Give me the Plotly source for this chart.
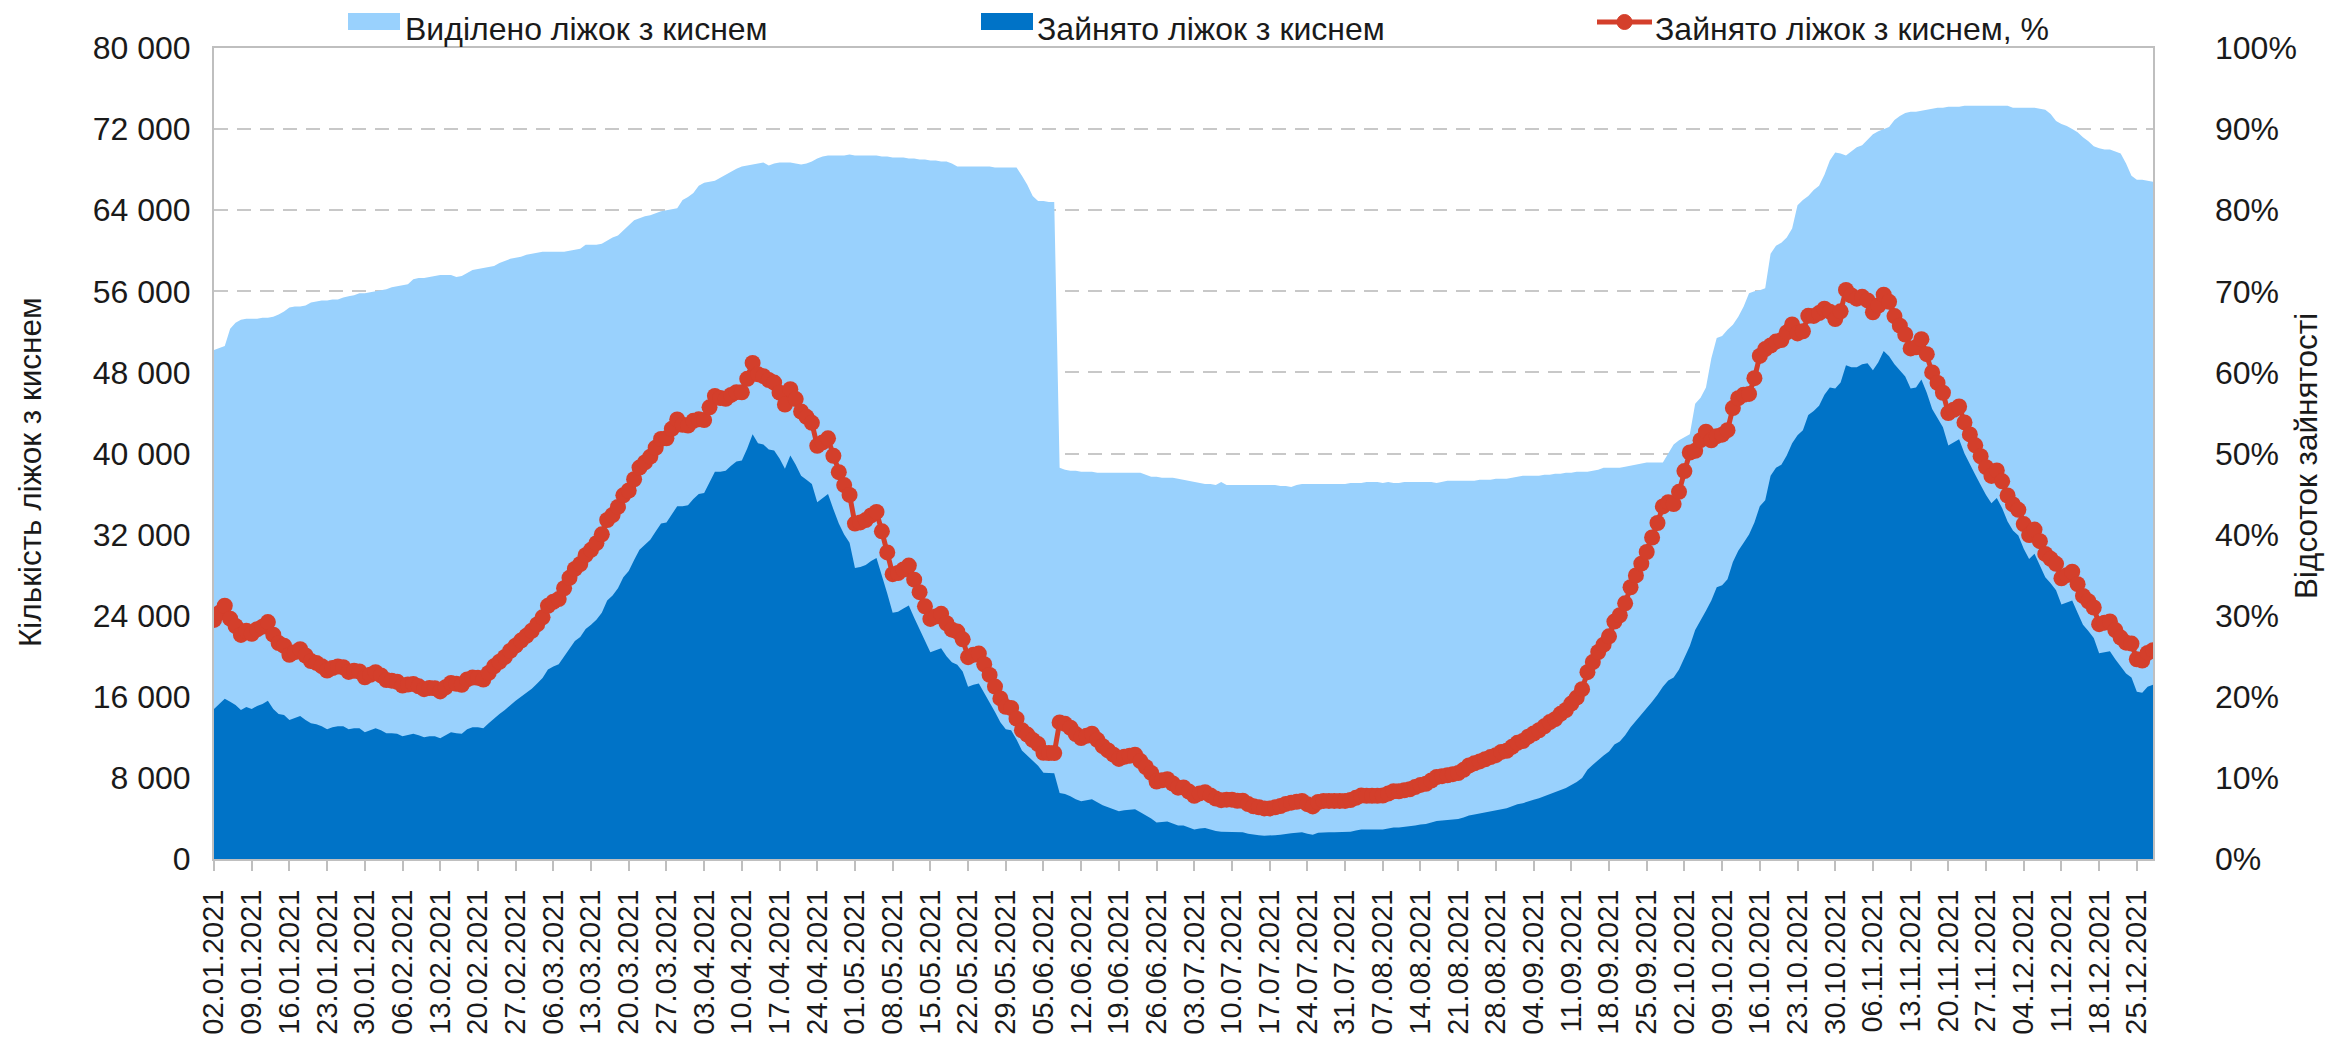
import pandas as pd
import plotly.graph_objects as go

# ---- data (daily, 02.01.2021 - 28.12.2021), values in thousands ----
dates = pd.date_range("2021-01-02", "2021-12-28", freq="D").strftime("%d.%m.%Y").tolist()

allocated_k = [
    50.2, 50.4, 50.6, 52.3, 52.9, 53.2, 53.3,
    53.3, 53.3, 53.4, 53.4, 53.5, 53.7, 54.0,
    54.4, 54.5, 54.5, 54.6, 54.9, 55.0, 55.1,
    55.1, 55.2, 55.2, 55.4, 55.5, 55.6, 55.8,
    55.8, 55.9, 56.0, 56.1, 56.2, 56.4, 56.5,
    56.6, 56.7, 57.2, 57.3, 57.3, 57.4, 57.5,
    57.6, 57.6, 57.6, 57.4, 57.5, 57.8, 58.1,
    58.2, 58.3, 58.4, 58.5, 58.8, 59.0, 59.2,
    59.3, 59.4, 59.6, 59.7, 59.8, 59.9, 59.9,
    59.9, 59.9, 59.9, 60.0, 60.1, 60.2, 60.6,
    60.6, 60.6, 60.7, 61.0, 61.3, 61.5, 62.0,
    62.5, 63.0, 63.2, 63.4, 63.5, 63.7, 63.9,
    64.0, 64.1, 64.2, 65.0, 65.3, 65.7, 66.4,
    66.7, 66.8, 66.9, 67.2, 67.5, 67.8, 68.1,
    68.3, 68.4, 68.5, 68.6, 68.7, 68.4, 68.6,
    68.7, 68.7, 68.7, 68.6, 68.5, 68.6, 68.8,
    69.1, 69.3, 69.4, 69.4, 69.4, 69.4, 69.5,
    69.4, 69.4, 69.4, 69.4, 69.4, 69.3, 69.3,
    69.2, 69.2, 69.2, 69.1, 69.1, 69.0, 69.0,
    68.9, 68.9, 68.8, 68.8, 68.6, 68.3, 68.3,
    68.3, 68.3, 68.3, 68.3, 68.3, 68.2, 68.2,
    68.2, 68.2, 68.2, 67.4, 66.5, 65.4, 64.9,
    64.9, 64.8, 64.8, 38.6, 38.4, 38.3, 38.3,
    38.2, 38.2, 38.2, 38.1, 38.1, 38.1, 38.1,
    38.1, 38.1, 38.1, 38.1, 38.1, 37.9, 37.7,
    37.7, 37.6, 37.6, 37.6, 37.5, 37.4, 37.3,
    37.2, 37.1, 37.0, 37.0, 36.9, 37.2, 36.9,
    36.9, 36.9, 36.9, 36.9, 36.9, 36.9, 36.9,
    36.9, 36.9, 36.8, 36.8, 36.7, 36.9, 37.0,
    37.0, 37.0, 37.0, 37.0, 37.0, 37.0, 37.0,
    37.0, 37.1, 37.1, 37.1, 37.2, 37.2, 37.2,
    37.1, 37.2, 37.1, 37.1, 37.2, 37.2, 37.2,
    37.2, 37.2, 37.2, 37.1, 37.2, 37.3, 37.3,
    37.3, 37.3, 37.3, 37.3, 37.4, 37.4, 37.4,
    37.5, 37.5, 37.5, 37.6, 37.7, 37.8, 37.8,
    37.8, 37.8, 37.9, 37.9, 38.0, 38.0, 38.1,
    38.1, 38.2, 38.2, 38.2, 38.3, 38.4, 38.6,
    38.6, 38.6, 38.6, 38.7, 38.8, 38.9, 39.0,
    39.1, 39.1, 39.1, 39.1, 40.0, 40.9, 41.3,
    41.6, 41.9, 44.9, 45.5, 46.5, 49.4, 51.4,
    51.6, 52.2, 52.7, 53.5, 54.5, 55.8, 56.0,
    56.1, 56.3, 59.7, 60.5, 60.8, 61.3, 62.2,
    64.5, 65.0, 65.4, 66.0, 66.4, 67.5, 68.9,
    69.7, 69.6, 69.4, 69.8, 70.2, 70.4, 71.0,
    71.5, 71.8, 72.0, 72.2, 72.9, 73.3, 73.6,
    73.7, 73.7, 73.8, 73.9, 74.0, 74.1, 74.1,
    74.2, 74.2, 74.2, 74.3, 74.3, 74.3, 74.3,
    74.3, 74.3, 74.3, 74.3, 74.3, 74.1, 74.1,
    74.1, 74.1, 74.1, 74.0, 73.9, 73.5, 72.8,
    72.5, 72.3, 72.0, 71.7, 71.2, 70.8, 70.3,
    70.1, 70.0, 70.0, 69.8, 69.6, 68.6, 67.4,
    67.0, 67.0, 66.9, 66.8,
]

occupied_k = [
    14.8, 15.3, 15.8, 15.5, 15.2, 14.7, 15.0,
    14.8, 15.1, 15.3, 15.6, 14.8, 14.3, 14.2,
    13.7, 13.9, 14.1, 13.7, 13.4, 13.3, 13.1,
    12.8, 13.0, 13.1, 13.1, 12.8, 12.9, 12.9,
    12.5, 12.7, 12.9, 12.7, 12.4, 12.4, 12.35,
    12.1, 12.2, 12.35, 12.2, 12.0, 12.1, 12.1,
    11.9, 12.2, 12.5, 12.4, 12.35, 12.8, 13.0,
    13.0, 12.9, 13.4, 13.9, 14.3, 14.7, 15.2,
    15.6, 16.0, 16.4, 16.8, 17.3, 17.85, 18.7,
    19.0, 19.2, 20.0, 20.8, 21.5, 21.9, 22.7,
    23.1, 23.6, 24.3, 25.5, 26.0, 26.7, 27.8,
    28.4, 29.5, 30.5, 31.0, 31.5, 32.3, 33.1,
    33.2, 34.0, 34.8, 34.8, 34.9, 35.5, 36.0,
    36.1, 37.2, 38.2, 38.2, 38.3, 38.8, 39.2,
    39.3, 40.5, 41.9, 41.0, 40.9, 40.4, 40.3,
    39.5, 38.5, 39.8, 38.9, 37.8, 37.4, 37.0,
    35.2, 35.6, 36.0, 34.5, 33.1, 32.0, 31.2,
    28.7, 28.8, 29.0, 29.4, 29.7, 28.0, 26.2,
    24.3, 24.4, 24.7, 25.0, 23.8, 22.7, 21.5,
    20.4, 20.6, 20.8, 20.0, 19.4, 19.15, 18.5,
    17.0, 17.2, 17.3, 16.4, 15.5, 14.5, 13.5,
    12.8, 12.7, 11.8, 10.7, 10.2, 9.6, 9.2,
    8.5, 8.46, 8.46, 6.5, 6.4, 6.2, 5.9,
    5.7, 5.8, 5.9, 5.6, 5.3, 5.1, 4.9,
    4.7, 4.8, 4.85, 4.9, 4.6, 4.3, 4.0,
    3.6, 3.65, 3.7, 3.5, 3.3, 3.3, 3.1,
    2.9, 3.0, 3.05, 2.9, 2.75, 2.7, 2.7,
    2.7, 2.65, 2.65, 2.5, 2.4, 2.35, 2.3,
    2.3, 2.35, 2.4, 2.5, 2.55, 2.6, 2.65,
    2.5, 2.4, 2.6, 2.65, 2.65, 2.65, 2.65,
    2.65, 2.7, 2.8, 2.9, 2.9, 2.9, 2.9,
    2.9, 3.0, 3.1, 3.1, 3.15, 3.2, 3.3,
    3.4, 3.45, 3.6, 3.75, 3.8, 3.85, 3.9,
    3.95, 4.1, 4.3, 4.4, 4.5, 4.6, 4.7,
    4.8, 4.95, 5.0, 5.2, 5.4, 5.5, 5.7,
    5.85, 6.0, 6.2, 6.4, 6.55, 6.8, 7.0,
    7.3, 7.6, 8.0, 8.8, 9.3, 9.8, 10.2,
    10.6, 11.3, 11.6, 12.2, 13.0, 13.6, 14.2,
    14.8, 15.5, 16.2, 17.0, 17.6, 17.9, 18.7,
    19.9, 21.0, 22.6, 23.5, 24.5, 25.5, 26.8,
    27.0, 27.6, 29.3, 30.4, 31.2, 32.0, 33.2,
    34.8, 35.4, 37.8, 38.6, 38.9, 39.8, 41.0,
    41.8, 42.3, 43.8, 44.2, 44.7, 45.8, 46.5,
    46.4, 47.0, 48.7, 48.5, 48.5, 48.8, 48.9,
    48.2, 49.0, 50.1, 49.6, 48.8, 48.2, 47.6,
    46.4, 46.5, 47.3, 46.0, 44.4, 43.5, 42.6,
    40.8, 41.1, 41.4, 40.0, 38.9, 37.9, 36.9,
    35.9, 35.1, 35.6, 34.6, 33.3, 32.4, 31.9,
    30.6, 29.6, 30.1, 29.0, 27.8, 27.2, 26.5,
    25.1, 25.3, 25.5, 24.3, 23.1, 22.5, 21.8,
    20.3, 20.4, 20.5, 19.7, 19.0, 18.3, 17.9,
    16.5, 16.4, 17.0, 17.2,
]

assert len(dates) == len(allocated_k) == len(occupied_k), (len(dates), len(allocated_k), len(occupied_k))

allocated = [v * 1000 for v in allocated_k]
occupied = [v * 1000 for v in occupied_k]
occupied_pct = [o / a for o, a in zip(occupied, allocated)]
tick_labels = dates[::7]

series_names = ["Виділено ліжок з киснем", "Зайнято ліжок з киснем", "Зайнято ліжок з киснем, %"]
left_title = "Кількість ліжок з киснем"
right_title = "Відсоток зайнятості"

# ---- styles ----
LIGHT = "#99D1FD"
DARK = "#0073C7"
RED = "#D43F2B"
GRID = "#C8C8C8"
AXIS = "#BFBFBF"
TXT = "#1A1A1A"
FONT = "Liberation Sans, Arial, sans-serif"

OFF = 8  # default page body margin
SW, SH = 2343, 1041
W, H = SW - OFF, SH - OFF
# plot area in screen px
SL, SR, ST, SB = 214, 2153, 48, 859
L, R, T, B = SL - OFF, SR - OFF, ST - OFF, SB - OFF


def px_x(px):
    return (px - SL) / (SR - SL)


def px_y(py):
    return (SB - py) / (SB - ST)


fig = go.Figure()
fig.add_trace(go.Scatter(x=dates, y=allocated, mode="lines", line=dict(width=0, color=LIGHT),
                         fill="tozeroy", fillcolor=LIGHT, name=series_names[0], showlegend=False))
fig.add_trace(go.Scatter(x=dates, y=occupied, mode="lines", line=dict(width=0, color=DARK),
                         fill="tozeroy", fillcolor=DARK, name=series_names[1], showlegend=False))
fig.add_trace(go.Scatter(x=dates, y=occupied_pct, yaxis="y2", mode="lines+markers",
                         line=dict(color=RED, width=5), marker=dict(size=16, color=RED),
                         name=series_names[2], showlegend=False))

# custom legend (shapes + text)
sym_y = px_y(22)
shapes = [
    dict(type="rect", xref="paper", yref="paper", x0=px_x(348), x1=px_x(400), y0=px_y(30), y1=px_y(13),
         fillcolor=LIGHT, line=dict(width=0)),
    dict(type="rect", xref="paper", yref="paper", x0=px_x(981), x1=px_x(1033), y0=px_y(30), y1=px_y(13),
         fillcolor=DARK, line=dict(width=0)),
    dict(type="line", xref="paper", yref="paper", x0=px_x(1597), x1=px_x(1652), y0=sym_y, y1=sym_y,
         line=dict(color=RED, width=5)),
    dict(type="circle", xref="paper", yref="paper", x0=px_x(1617), x1=px_x(1632), y0=px_y(29.5), y1=px_y(14.5),
         fillcolor=RED, line=dict(color=RED, width=1)),
]
LEG_FS = 32
TITLE_FS = 31.5
leg_top = px_y(9)
annotations = [
    dict(text=series_names[0], x=px_x(403), y=leg_top, xref="paper", yref="paper", xanchor="left",
         yanchor="top", showarrow=False, font=dict(size=LEG_FS, color=TXT, family=FONT)),
    dict(text=series_names[1], x=px_x(1035), y=leg_top, xref="paper", yref="paper", xanchor="left",
         yanchor="top", showarrow=False, font=dict(size=LEG_FS, color=TXT, family=FONT)),
    dict(text=series_names[2], x=px_x(1653), y=leg_top, xref="paper", yref="paper", xanchor="left",
         yanchor="top", showarrow=False, font=dict(size=LEG_FS, color=TXT, family=FONT)),
    dict(text=left_title, x=px_x(30), y=px_y(472), xref="paper", yref="paper", xanchor="center",
         yanchor="middle", textangle=-90, showarrow=False, font=dict(size=TITLE_FS, color=TXT, family=FONT)),
    dict(text=right_title, x=px_x(2306), y=px_y(456), xref="paper", yref="paper", xanchor="center",
         yanchor="middle", textangle=-90, showarrow=False, font=dict(size=TITLE_FS, color=TXT, family=FONT)),
]

fig.update_layout(
    width=W, height=H,
    margin=dict(l=L, r=W - R, t=T, b=H - B, pad=0),
    paper_bgcolor="white", plot_bgcolor="white",
    separators=", ",
    showlegend=False,
    shapes=shapes, annotations=annotations,
    font=dict(family=FONT, color=TXT),
    xaxis=dict(type="category", range=[0, len(dates) - 1], tickmode="array", tickvals=tick_labels,
               ticktext=tick_labels, tickangle=-90, ticks="outside", ticklen=10, tickwidth=2,
               tickcolor=AXIS, showline=True, linecolor=AXIS, linewidth=2, mirror=True,
               showgrid=False, zeroline=False, tickfont=dict(size=29, color=TXT, family=FONT),
               ticklabelstandoff=7, automargin=False),
    yaxis=dict(range=[0, 80000], tickmode="linear", tick0=0, dtick=8000, tickformat=",d",
               showgrid=True, gridcolor=GRID, gridwidth=2, griddash="14px,9px",
               showline=True, linecolor=AXIS, linewidth=2, mirror=True, ticks="",
               zeroline=False, tickfont=dict(size=32, color=TXT, family=FONT),
               ticklabelstandoff=15, automargin=False),
    yaxis2=dict(overlaying="y", side="right", range=[0, 1], tickmode="linear", tick0=0, dtick=0.1,
                tickformat=".0%", showgrid=False, showline=False, ticks="", zeroline=False,
                tickfont=dict(size=32, color=TXT, family=FONT), ticklabelstandoff=61,
                automargin=False),
)

fig.write_html("out.html")
